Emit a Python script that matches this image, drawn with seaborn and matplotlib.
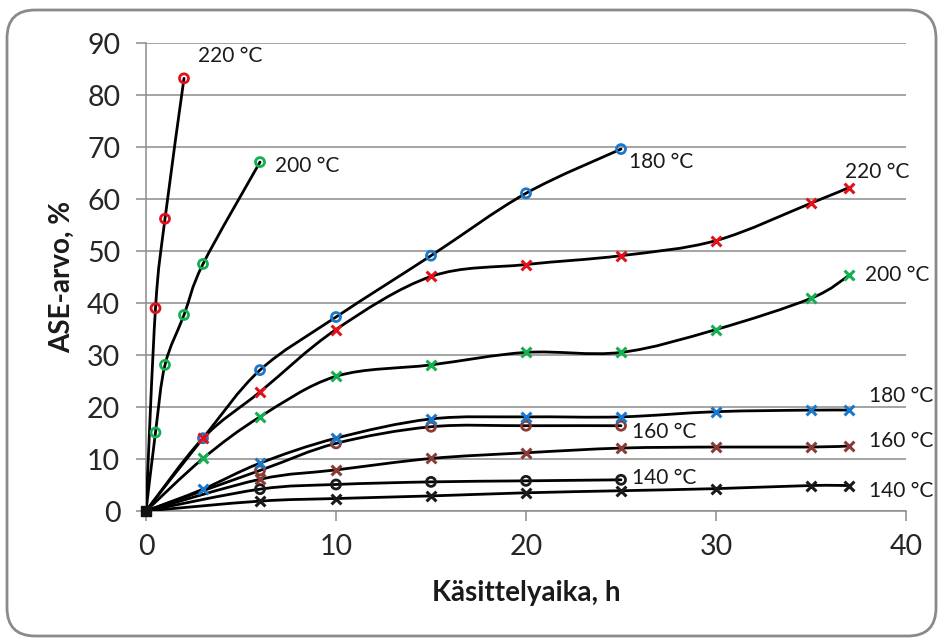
import numpy as np
import pandas as pd
import matplotlib
matplotlib.use("Agg")
import matplotlib.pyplot as plt
from matplotlib.path import Path
from matplotlib.patches import PathPatch, FancyBboxPatch
import seaborn as sns

# --- data ---
# short treatments (open circles)
t_220_o = [0, 0.5, 1, 2]
ase_220_o = [0, 39.0, 56.2, 83.2]
t_200_o = [0, 0.5, 1, 2, 3, 6]
ase_200_o = [0, 15.1, 28.1, 37.7, 47.5, 67.1]
t_180_o = [0, 3, 6, 10, 15, 20, 25]
ase_180_o = [0, 14.0, 27.1, 37.3, 49.1, 61.1, 69.6]
t_160_o = [0, 6, 10, 15, 20, 25]
ase_160_o = [0, 7.8, 13.0, 16.2, 16.4, 16.4]
t_140_o = [0, 6, 10, 15, 20, 25]
ase_140_o = [0, 4.2, 5.1, 5.6, 5.8, 6.0]

# long treatments (crosses)
t_long = [0, 3, 6, 10, 15, 20, 25, 30, 35, 37]
ase_220_x = [0, 14.0, 22.9, 34.9, 45.1, 47.4, 49.1, 52.0, 59.2, 62.2]
ase_200_x = [0, 10.1, 18.1, 25.9, 28.1, 30.5, 30.5, 34.9, 40.9, 45.3]
ase_180_x = [0, 4.2, 9.2, 14.0, 17.7, 18.1, 18.1, 19.1, 19.4, 19.4]
t_low = [0, 6, 10, 15, 20, 25, 30, 35, 37]
ase_160_x = [0, 6.1, 7.9, 10.1, 11.2, 12.1, 12.3, 12.3, 12.5]
ase_140_x = [0, 1.9, 2.4, 2.9, 3.5, 3.9, 4.3, 4.9, 4.9]

labels = ["220 °C", "200 °C", "180 °C", "160 °C", "140 °C"]
colors = ["#E3101A", "#12B04E", "#1A78CC", "#8B3A36", "#1A1A1A"]

series = [
    # (t, ase, label index, marker, label offset in px)
    (t_220_o, ase_220_o, 0, "o", (14, 22)),
    (t_200_o, ase_200_o, 1, "o", (15, -4)),
    (t_180_o, ase_180_o, 2, "o", (8, -13)),
    (t_160_o, ase_160_o, 3, "o", (11, -6)),
    (t_140_o, ase_140_o, 4, "o", (11, 2)),
    (t_long, ase_220_x, 0, "x", (-4, 16)),
    (t_long, ase_200_x, 1, "x", (16, 0)),
    (t_long, ase_180_x, 2, "x", (20, 14)),
    (t_low, ase_160_x, 3, "x", (20, 5)),
    (t_low, ase_140_x, 4, "x", (20, -5)),
]


def smooth_path(xs, ys):
    # Excel-style smoothed line: Catmull-Rom segments as cubic Bezier curves
    pts = np.column_stack([xs, ys]).astype(float)
    verts = [pts[0]]
    codes = [Path.MOVETO]
    n = len(pts)
    for i in range(n - 1):
        p0 = pts[i - 1] if i > 0 else pts[i]
        p1 = pts[i]
        p2 = pts[i + 1]
        p3 = pts[i + 2] if i + 2 < n else pts[i + 1]
        verts += [p1 + (p2 - p0) / 6, p2 - (p3 - p1) / 6, p2]
        codes += [Path.CURVE4] * 3
    return Path(verts, codes)


sns.set_style("white")
plt.rcParams["font.family"] = ["Lato", "DejaVu Sans"]

fig = plt.figure(figsize=(9.4, 6.4), dpi=100)
ax = fig.add_axes([146 / 940, 1 - 511 / 640, 760 / 940, 468 / 640])

grey = "#8C8C8C"

for t, ase, li, mk, off in series:
    patch = PathPatch(smooth_path(t, ase), facecolor="none", edgecolor="black",
                      lw=2.0, zorder=3, capstyle="round")
    ax.add_patch(patch)

    df = pd.DataFrame({"t": t, "ase": ase})
    pts = df.iloc[1:]
    if mk == "o":
        sns.scatterplot(data=pts, x="t", y="ase", ax=ax, marker="o", s=42,
                        facecolor="none", edgecolor=colors[li], linewidth=2.0,
                        zorder=4, legend=False)
    else:
        sns.scatterplot(data=pts, x="t", y="ase", ax=ax, marker="x", s=50,
                        color=colors[li], linewidth=2.2, zorder=4, legend=False)
    ax.annotate(labels[li], xy=(t[-1], ase[-1]), xytext=off,
                textcoords="offset pixels", ha="left", va="center",
                fontsize=15, color="#1A1A1A")

# markers at the origin look black in the reference
ax.scatter([0], [0], marker="s", s=55, color="#111111", zorder=5, clip_on=False)

ax.set_xlim(0, 40)
ax.set_ylim(0, 90)
ax.set_xticks([0, 10, 20, 30, 40])
ax.set_yticks(np.arange(0, 91, 10))
ax.yaxis.grid(True, color=grey, lw=1.1)
ax.set_axisbelow(True)
for side in ["top", "right"]:
    ax.spines[side].set_visible(False)
for side in ["left", "bottom"]:
    ax.spines[side].set_color(grey)
    ax.spines[side].set_linewidth(1.1)
ax.tick_params(axis="both", direction="out", length=7.5, width=1.1, color=grey,
               labelsize=20.5, labelcolor="#262626")
ax.tick_params(axis="y", pad=11, left=True)
ax.tick_params(axis="x", pad=9, bottom=True)

ax.set_xlabel("Käsittelyaika, h", fontsize=20, fontweight="bold", color="#1A1A1A")
ax.set_ylabel("ASE-arvo, %", fontsize=20, fontweight="bold", color="#1A1A1A")
ax.xaxis.set_label_coords(0.5, -0.148)
ax.yaxis.set_label_coords(-0.093, 0.5)

# rounded chart border
border = FancyBboxPatch((7 / 940, 4 / 640), 929 / 940, 626 / 640,
                        boxstyle="round,pad=0,rounding_size=0.03",
                        transform=fig.transFigure, facecolor="none",
                        edgecolor="#8A8A8A", lw=2.0, mutation_aspect=940 / 640)
fig.patches.append(border)

fig.savefig("out.png", dpi=100)
